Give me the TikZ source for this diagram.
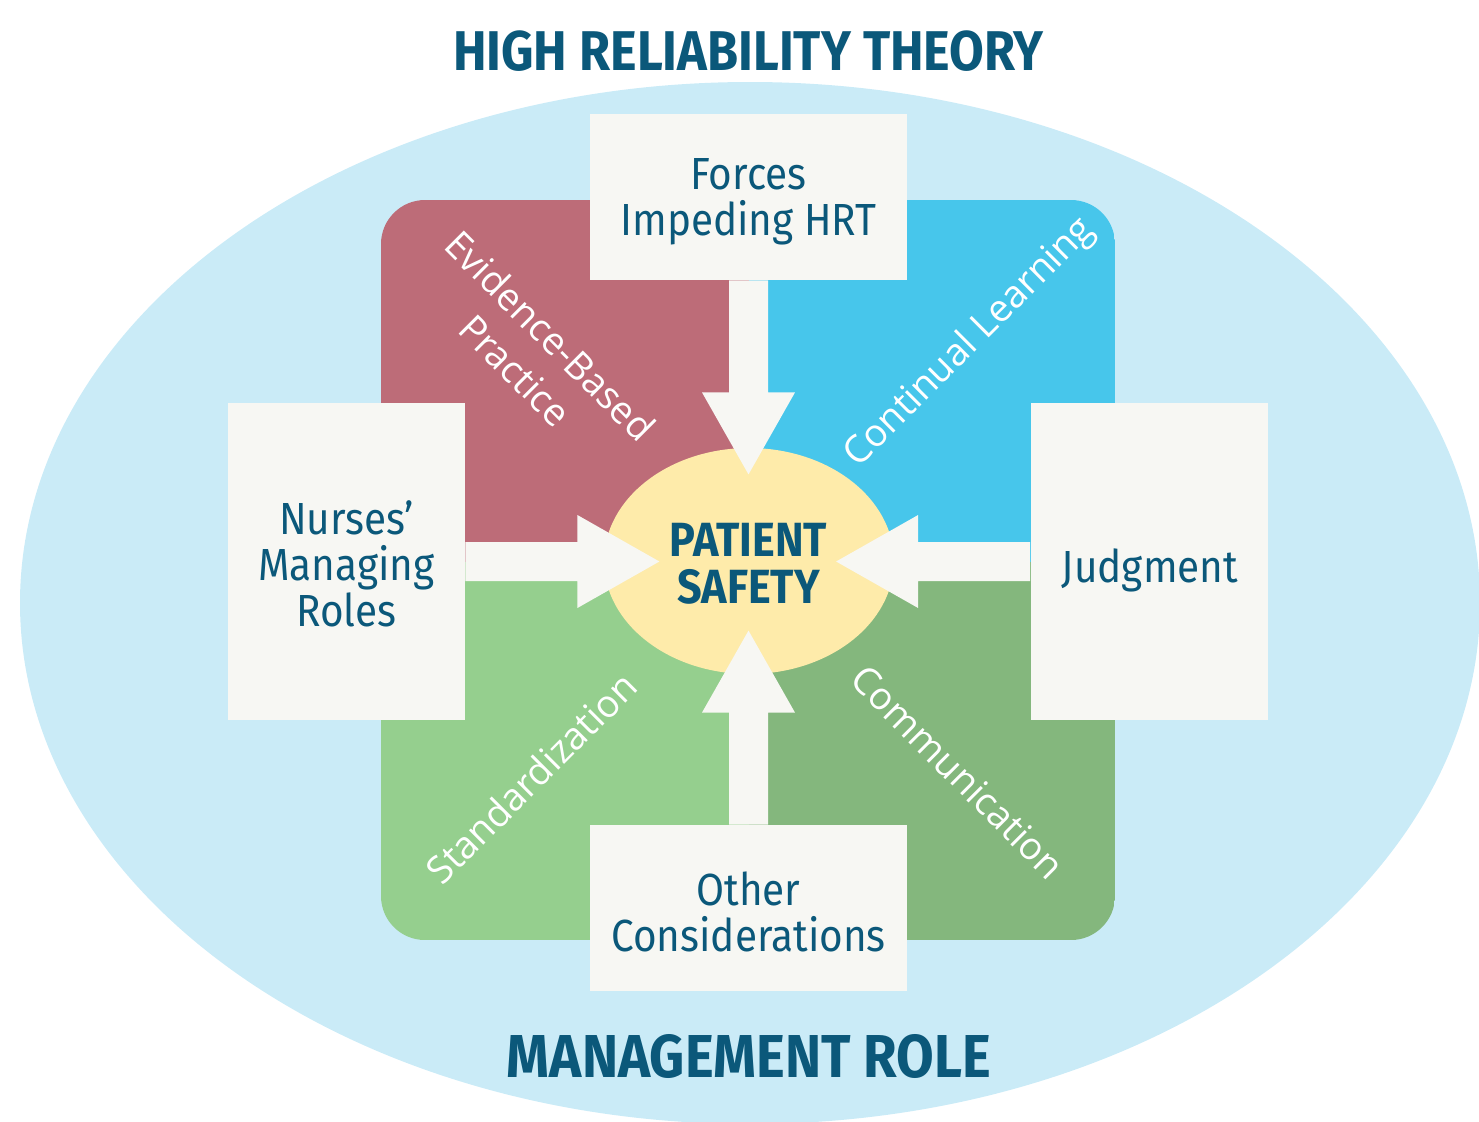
\documentclass[tikz,border=0pt]{standalone}
\usepackage{fontspec}
\setmainfont[FakeStretch=0.9]{Fira Sans}
\newfontfamily\rotfont{Open Sans}
\usetikzlibrary{calc,shapes.geometric}
\definecolor{bgc}{HTML}{CAEBF7}
\definecolor{redc}{HTML}{BD6C78}
\definecolor{bluec}{HTML}{47C6EB}
\definecolor{lgreenc}{HTML}{95CF8E}
\definecolor{dgreenc}{HTML}{84B77D}
\definecolor{yellowc}{HTML}{FEEBAA}
\definecolor{boxc}{HTML}{F7F7F3}
\definecolor{textc}{HTML}{0B587A}
\newcommand\blockarrow[2]{%
  \fill[boxc, shift={(#1)}, rotate=#2] (0,-19.5) -- (112,-19.5) -- (112,-46.5) -- (194,0) -- (112,46.5) -- (112,19.5) -- (0,19.5) -- cycle;}
\begin{document}
\begin{tikzpicture}[x=0.5pt,y=-0.5pt,
  boxnode/.style={rectangle, fill=boxc, inner sep=0pt},
  hbox/.style={boxnode, minimum width=158.5pt, minimum height=83pt},
  vbox/.style={boxnode, minimum width=118.5pt, minimum height=158.5pt},
  boxtext/.style={text=textc, align=center, inner sep=0pt, font=\fontsize{22.5}{23}\selectfont},
  rotlab/.style={text=white, align=center, inner sep=0pt, font=\rotfont\fontsize{19}{24.5}\selectfont},
  heading/.style={text=textc, inner sep=0pt, font=\bfseries\fontsize{28}{30}\selectfont}]
\useasboundingbox (0,0) rectangle (1479,1121);
\clip (0,0) rectangle (1479,1121);
\fill[bgc] (750,603) ellipse [x radius=730, y radius=521];
\begin{scope}
  \clip[rounded corners=22pt] (381,200) rectangle (1115,940);
  \fill[redc] (381,200) rectangle (748.5,562);
  \fill[bluec] (748.5,200) rectangle (1115,562);
  \fill[lgreenc] (381,562) rectangle (748.5,940);
  \fill[dgreenc] (748.5,562) rectangle (1115,940);
\end{scope}
\node[rotlab, rotate=-45] (ebp) at (533,353) {Evidence-Based\\Practice};
\node[rotlab, rotate=45] (cl) at (970,343) {Continual Learning};
\node[rotlab, rotate=45] (std) at (531,778) {Standardization};
\node[rotlab, rotate=-45] (com) at (958,772) {Communication};
\node[ellipse, fill=yellowc, inner sep=0pt, minimum width=145pt, minimum height=113pt] (ps) at (749,561) {};
\node[hbox] (forces) at (748.5,197) {};
\node[vbox] (nurses) at (346.5,561.5) {};
\node[vbox] (judg) at (1149,561.5) {};
\node[hbox] (other) at (748.5,908) {};
\node[boxtext] (forcest) at (748.5,202) {Forces\\Impeding HRT};
\node[boxtext] (nursest) at (346.5,564) {Nurses’\\Managing\\Roles};
\node[boxtext] (judgt) at (1150,570) {Judgment};
\node[boxtext] (othert) at (748.5,912) {Other\\Considerations};
\blockarrow{forces.south}{-90}
\blockarrow{nurses.east}{0}
\blockarrow{judg.west}{180}
\blockarrow{other.north}{90}
\node[text=textc, align=center, inner sep=0pt, font=\bfseries\fontsize{24}{23.5}\selectfont] (pstext) at (748.5,564) {PATIENT\\SAFETY};
\node[heading] (title) at (748.5,51) {HIGH RELIABILITY THEORY};
\node[heading, font=\bfseries\fontsize{30.3}{32}\selectfont] (mgmt) at (749,1056) {MANAGEMENT ROLE};
\end{tikzpicture}
\end{document}
